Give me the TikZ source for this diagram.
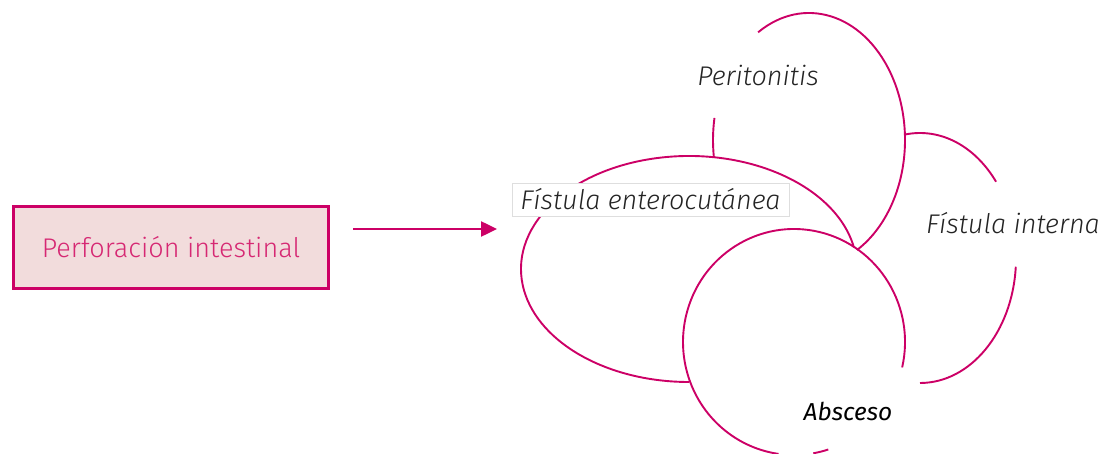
\documentclass[tikz,border=0pt]{standalone}
\usepackage{fontspec}
\setmainfont{Fira Sans}[UprightFont={* Light}, ItalicFont={* Light Italic}]
\newfontfamily\firareg{Fira Sans}
\usetikzlibrary{calc,arrows.meta}
\definecolor{mag}{RGB}{204,0,102}
\definecolor{magtext}{RGB}{214,40,115}
\definecolor{boxfill}{RGB}{242,220,220}
\definecolor{labtext}{RGB}{35,35,35}
\begin{document}
\begin{tikzpicture}[x=1pt,y=1pt,
  arcline/.style={draw=mag,line width=1.9pt},
  causebox/.style={draw=mag,line width=3pt,fill=boxfill,minimum width=315pt,minimum height=82pt,inner sep=0pt,text=magtext,font=\fontsize{27}{32}\selectfont},
  lab/.style={text=labtext,font=\fontsize{27}{32}\selectfont\itshape,inner sep=0pt},
  labbox/.style={lab,draw=black!13,line width=0.8pt,fill=white,minimum width=277pt,minimum height=33pt},
  flow/.style={draw=mag,line width=2.5pt,-{Triangle[length=16pt,width=15pt]}}]
\useasboundingbox (0,0) rectangle (1107,-454);
\clip (0,0) rectangle (1107,-454);
% centres of the ellipses
\coordinate (cP) at (809,-140);
\coordinate (cE) at (689,-269);
\coordinate (cA) at (794,-342);
\coordinate (cI) at (920,-258);
% Peritonitis ellipse
\draw[arcline] ($(cP)+(122:96pt and 127pt)$) arc[start angle=122,end angle=-60,x radius=96pt,y radius=127pt];
\draw[arcline] ($(cP)+(170:96pt and 127pt)$) arc[start angle=170,end angle=188,x radius=96pt,y radius=127pt];
% Fistula enterocutanea ellipse
\draw[arcline] ($(cE)+(11:168pt and 113pt)$) arc[start angle=11,end angle=270,x radius=168pt,y radius=113pt];
% Absceso circle
\draw[arcline] ($(cA)+(-13:111pt and 113pt)$) arc[start angle=-13,end angle=262,x radius=111pt,y radius=113pt];
\draw[arcline] ($(cA)+(-72:111pt and 113pt)$) arc[start angle=-72,end angle=-80,x radius=111pt,y radius=113pt];
% Fistula interna ellipse
\draw[arcline] ($(cI)+(99:96pt and 125pt)$) arc[start angle=99,end angle=37.6,x radius=96pt,y radius=125pt];
\draw[arcline] ($(cI)+(-4:96pt and 125pt)$) arc[start angle=-4,end angle=-90,x radius=96pt,y radius=125pt];
% labels
\node[lab] (per) at (758,-75) {Peritonitis};
\node[labbox] (ent) at (650.5,-199.5) {Fístula enterocutánea};
\node[lab] (int) at (1013,-223) {Fístula interna};
\node[lab,text=black,font=\fontsize{24.5}{29}\firareg\itshape] (abs) at (848,-411) {Absceso};
% cause box and arrow
\node[causebox] (cause) at (171,-247.5) {Perforación intestinal};
\coordinate (arrowend) at (497,-229);
\draw[flow] (353,-229) -- (arrowend);
\end{tikzpicture}
\end{document}
